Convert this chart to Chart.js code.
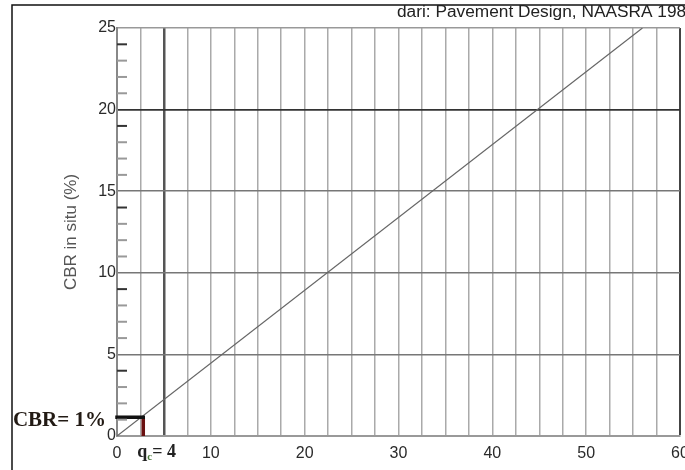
<!DOCTYPE html>
<html>
<head>
<meta charset="utf-8">
<script src="https://cdn.jsdelivr.net/npm/chart.js@4"></script>
<style>
  html, body { margin: 0; padding: 0; background: #fff; }
  #wrap { width: 685px; height: 470px; position: relative; overflow: hidden; }
</style>
</head>
<body>
<div id="wrap"><canvas id="c" width="685" height="470"></canvas></div>
<script>
// ---- data ----
const qcValues   = [0, 56];        // cone resistance qc (x)
const cbrValues  = [0, 25];        // CBR in situ (%) (y)
const markerQc   = 2.8;            // annotated point (qc)
const markerCbr  = 1.15;           // annotated point (CBR)
const xTickLabels = [0, 10, 20, 30, 40, 50, 60];
const yTickLabels = [0, 5, 10, 15, 20, 25];
const yMinorTicks = [1,2,3,4,6,7,8,9,11,12,13,14,16,17,18,19,21,22,23,24];
const sourceText = 'dari: Pavement Design, NAASRA 1987';
const yTitle = 'CBR in situ (%)';
const cbrLabel = 'CBR= 1%';
const qcLabelMain = 'q';
const qcLabelSub = 'c';
const qcLabelRest = '= 4';

const linePoints = qcValues.map((x, i) => ({x, y: cbrValues[i]}));

const decorPlugin = {
  id: 'decor',
  beforeDraw(chart) {
    const ctx = chart.ctx;
    ctx.save();
    ctx.fillStyle = '#fff';
    ctx.fillRect(0, 0, chart.width, chart.height);
    ctx.strokeStyle = '#111';
    ctx.lineWidth = 1.5;
    ctx.beginPath();
    ctx.moveTo(12, chart.height);
    ctx.lineTo(12, 5);
    ctx.lineTo(chart.width, 5);
    ctx.stroke();
    ctx.restore();
  },
  afterDatasetsDraw(chart) {
    const ctx = chart.ctx;
    const ys = chart.scales.y, xs = chart.scales.x;
    const left = chart.chartArea.left;
    ctx.save();
    // minor ticks inside the y axis
    yMinorTicks.forEach(v => {
      const py = ys.getPixelForValue(v);
      ctx.strokeStyle = (v % 5 === 4) ? '#333' : '#999';
      ctx.lineWidth = 2;
      ctx.beginPath();
      ctx.moveTo(left, py);
      ctx.lineTo(left + 10, py);
      ctx.stroke();
    });
    // source text
    ctx.fillStyle = '#222';
    ctx.font = '17.3px "Liberation Sans", Arial, sans-serif';
    ctx.textBaseline = 'alphabetic';
    ctx.textAlign = 'left';
    ctx.fillText(sourceText, 397, 17);
    // CBR label
    const my = ys.getPixelForValue(markerCbr);
    ctx.fillStyle = '#221a14';
    ctx.font = 'bold 21px "Liberation Serif", "Times New Roman", serif';
    ctx.textAlign = 'right';
    ctx.fillText(cbrLabel, left - 11, my + 9);
    // qc label
    const mx = xs.getPixelForValue(markerQc);
    let tx = mx - 6;
    const by = chart.chartArea.bottom + 21;
    ctx.textAlign = 'left';
    ctx.font = 'bold 18px "Liberation Serif", "Times New Roman", serif';
    ctx.fillStyle = '#222';
    ctx.fillText(qcLabelMain, tx, by);
    tx += ctx.measureText(qcLabelMain).width;
    ctx.font = 'bold 11px "Liberation Serif", "Times New Roman", serif';
    ctx.fillStyle = '#4a7a3a';
    ctx.fillText(qcLabelSub, tx, by + 3);
    tx += ctx.measureText(qcLabelSub).width;
    ctx.font = 'bold 18px "Liberation Serif", "Times New Roman", serif';
    ctx.fillStyle = '#222';
    ctx.fillText(qcLabelRest, tx, by);
    ctx.restore();
  }
};

new Chart(document.getElementById('c'), {
  type: 'scatter',
  data: {
    datasets: [
      {
        data: linePoints,
        showLine: true,
        borderColor: '#666',
        borderWidth: 1.2,
        pointRadius: 0,
        order: 2
      },
      {
        data: [{x: 0, y: markerCbr}, {x: markerQc, y: markerCbr}],
        showLine: true,
        borderColor: '#111',
        borderWidth: 3.5,
        pointRadius: 0,
        borderCapStyle: 'square',
        clip: false,
        order: 1
      },
      {
        data: [{x: markerQc, y: markerCbr}, {x: markerQc, y: 0}],
        showLine: true,
        borderColor: '#6a1010',
        borderWidth: 3.5,
        pointRadius: 0,
        clip: false,
        order: 1
      }
    ]
  },
  options: {
    responsive: false,
    animation: false,
    devicePixelRatio: 1,
    layout: { padding: { top: 28, right: 5, bottom: 0, left: 58 } },
    plugins: { legend: { display: false }, tooltip: { enabled: false } },
    scales: {
      x: {
        type: 'linear',
        min: 0, max: 60,
        afterFit(s) { s.height = 34; s.paddingRight = 0; s.paddingLeft = 0; },
        afterBuildTicks(s) {
          const t = [];
          for (let i = 0; i <= 24; i++) t.push({value: i * 2.5});
          s.ticks = t;
        },
        grid: {
          drawTicks: false,
          color: ctx => {
            const v = ctx.tick && ctx.tick.value;
            if (v === 5) return '#555';
            if (v === 60) return '#444';
            return '#aaa';
          },
          lineWidth: ctx => {
            const v = ctx.tick && ctx.tick.value;
            if (v === 5) return 2.5;
            if (v === 60) return 2;
            return 1.5;
          }
        },
        border: { color: '#999', width: 2 },
        ticks: {
          autoSkip: false,
          maxRotation: 0,
          padding: 8,
          color: '#2a2a2a',
          font: { family: '"Liberation Sans", Arial, sans-serif', size: 16 },
          callback: v => xTickLabels.includes(v) ? String(v) : ''
        }
      },
      y: {
        type: 'linear',
        min: 0, max: 25,
        afterFit(s) { s.width = 59; },
        afterBuildTicks(s) { s.ticks = yTickLabels.map(v => ({value: v})); },
        grid: {
          drawTicks: false,
          color: ctx => {
            const v = ctx.tick && ctx.tick.value;
            if (v === 20) return '#333';
            if (v === 25) return '#999';
            return '#777';
          },
          lineWidth: ctx => (ctx.tick && ctx.tick.value === 20) ? 1.8 : 1.5
        },
        border: { color: '#888', width: 2 },
        title: {
          display: true,
          text: yTitle,
          color: '#555',
          padding: { top: 3, bottom: 0 },
          font: { family: '"Liberation Sans", Arial, sans-serif', size: 17 }
        },
        ticks: {
          padding: 1,
          color: '#2a2a2a',
          font: { family: '"Liberation Sans", Arial, sans-serif', size: 16 }
        }
      }
    }
  },
  plugins: [decorPlugin]
});
</script>
</body>
</html>
